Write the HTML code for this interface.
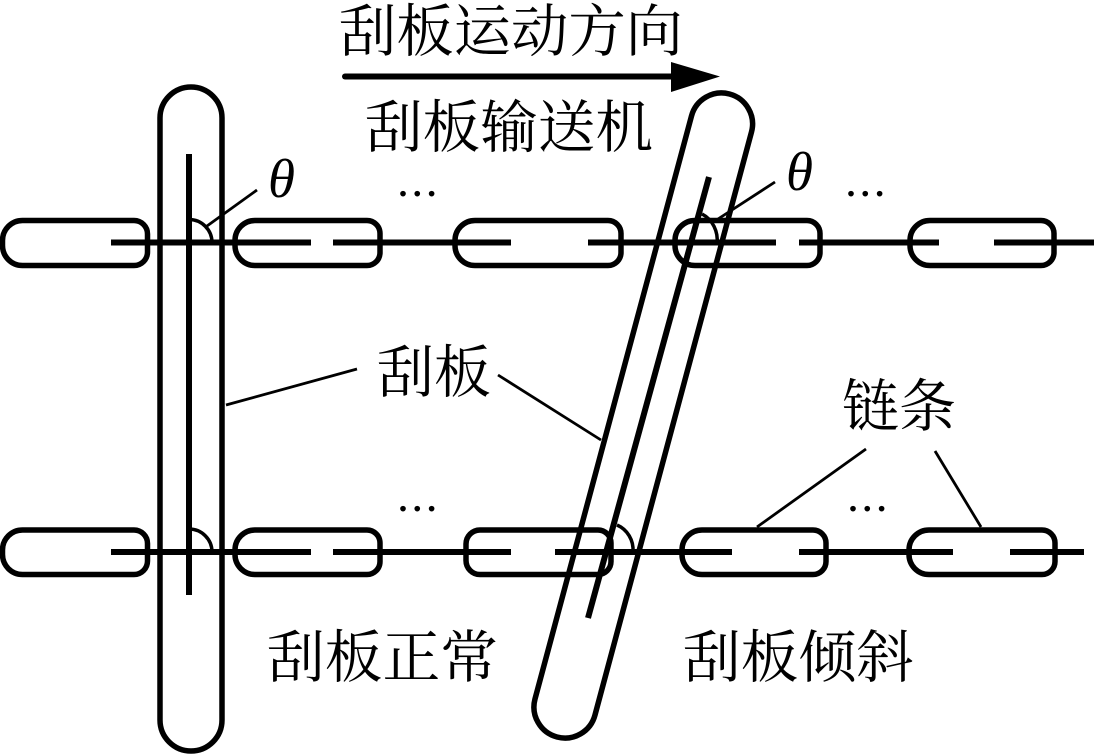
<!DOCTYPE html>
<html><head><meta charset="utf-8"><style>
html,body{margin:0;padding:0;background:#fff}
svg{display:block}
.c{font-family:"Liberation Serif","Noto Serif CJK SC",serif;font-size:57px;fill:#000}
.t{font-family:"Liberation Serif",serif;font-style:italic;font-size:55px;fill:#000}
.d{font-family:"Liberation Serif",serif;font-size:48px;letter-spacing:2.3px;fill:#000}
</style></head><body>
<svg width="1094" height="755" viewBox="0 0 1094 755" xmlns="http://www.w3.org/2000/svg">
<g fill="none" stroke="#000" stroke-width="5.5">
<path d="M22.500 220.500H134A13.500 13.500 0 0 1 147.500 234V252A13.500 13.500 0 0 1 134 265.500H22.500A20 20 0 0 1 2.500 245.500V240.500A20 20 0 0 1 22.500 220.500Z"/>
<path d="M255 220.500H367A13 13 0 0 1 380 233.500V252.500A13 13 0 0 1 367 265.500H255A20 20 0 0 1 235 245.500V240.500A20 20 0 0 1 255 220.500Z"/>
<path d="M475 220.500H608A13 13 0 0 1 621 233.500V252.500A13 13 0 0 1 608 265.500H475A20 20 0 0 1 455 245.500V240.500A20 20 0 0 1 475 220.500Z"/>
<path d="M695 220.500H807A13 13 0 0 1 820 233.500V252.500A13 13 0 0 1 807 265.500H695A20 20 0 0 1 675 245.500V240.500A20 20 0 0 1 695 220.500Z"/>
<path d="M930 220.500H1041A13 13 0 0 1 1054 233.500V252.500A13 13 0 0 1 1041 265.500H930A20 20 0 0 1 910 245.500V240.500A20 20 0 0 1 930 220.500Z"/>
<path d="M22.500 530H134A13.500 13.500 0 0 1 147.500 543.500V561A13.500 13.500 0 0 1 134 574.500H22.500A20 20 0 0 1 2.500 554.500V550A20 20 0 0 1 22.500 530Z"/>
<path d="M255 530H367A13 13 0 0 1 380 543V561.500A13 13 0 0 1 367 574.500H255A20 20 0 0 1 235 554.500V550A20 20 0 0 1 255 530Z"/>
<path d="M480 530H598A13 13 0 0 1 611 543V561.500A13 13 0 0 1 598 574.500H480A14 14 0 0 1 466 560.500V544A14 14 0 0 1 480 530Z"/>
<path d="M702 530H813A13 13 0 0 1 826 543V561.500A13 13 0 0 1 813 574.500H702A20 20 0 0 1 682 554.500V550A20 20 0 0 1 702 530Z"/>
<path d="M929 530H1042A13 13 0 0 1 1055 543V561.500A13 13 0 0 1 1042 574.500H929A20 20 0 0 1 909 554.500V550A20 20 0 0 1 929 530Z"/>
<rect x="160" y="87" width="62" height="664" rx="31" ry="31"/>
<path d="M691.500 116L535 699A31 31 0 0 0 595 715L751.500 132A31 31 0 0 0 691.500 116Z"/>
</g>
<g stroke="#000" stroke-width="6" fill="none">
<path d="M111 242.500H311M333 242.500H511M588 242.500H776M799 242.500H939M994 242.500H1094"/>
<path d="M111 552H311M333 552H511M555 552H732M799 552H953M1010 552H1084"/>
<path d="M189 154V595"/>
<path d="M709 177L588 618"/>
<path d="M345 76.500H680" stroke-linecap="round"/>
</g>
<path d="M671 62L720 76.500L671 92Z" fill="#000"/>
<g stroke="#000" stroke-width="3.500" fill="none">
<path d="M189 219.500A23 23 0 0 1 212 242.500"/>
<path d="M189 529A23 23 0 0 1 212 552"/>
<path d="M702 214A27 29 0 0 1 717 244"/>
<path d="M617 525A26 27 0 0 1 633 552"/>
</g>
<g stroke="#000" stroke-width="2.800" fill="none">
<path d="M207 226L257 190"/>
<path d="M718 219L775 182"/>
<path d="M226 405L357 369"/>
<path d="M498 375L601 440"/>
<path d="M757 527L866 449"/>
<path d="M981 527L935 451"/>
</g>
<text class="c" x="339" y="51" textLength="344" lengthAdjust="spacingAndGlyphs">刮板运动方向</text>
<text class="c" x="365" y="147" textLength="288" lengthAdjust="spacingAndGlyphs">刮板输送机</text>
<text class="c" x="377" y="392">刮板</text>
<text class="c" x="842" y="426">链条</text>
<text class="c" x="267" y="677" textLength="231" lengthAdjust="spacingAndGlyphs">刮板正常</text>
<text class="c" x="683" y="677" textLength="231" lengthAdjust="spacingAndGlyphs">刮板倾斜</text>
<text class="t" x="268" y="197">θ</text>
<text class="t" x="786" y="190">θ</text>
<text class="d" x="397" y="196">...</text>
<text class="d" x="845" y="196">...</text>
<text class="d" x="397" y="511">...</text>
<text class="d" x="847" y="511">...</text>
</svg>
</body></html>
